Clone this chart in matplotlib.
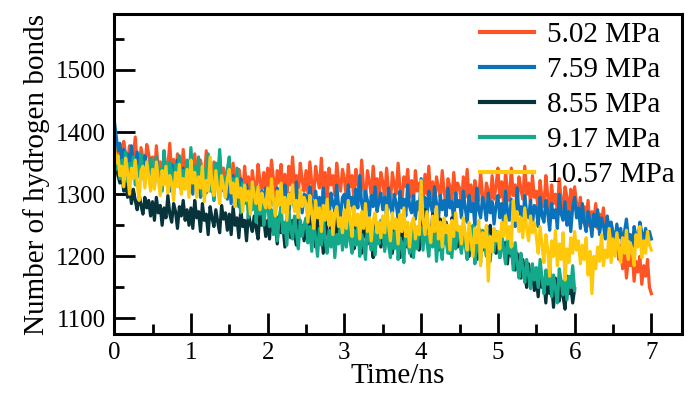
import numpy as np
import matplotlib
matplotlib.use("Agg")
import matplotlib.pyplot as plt
from matplotlib.ticker import MultipleLocator

plt.rcParams['font.family'] = ['Liberation Serif', 'DejaVu Serif']

# sampling step of the values below (ns)
dt = 0.025

labels = ["5.02 MPa", "7.59 MPa", "8.55 MPa", "9.17 MPa", "10.57 MPa"]
colors = ["#FF5525", "#0A72BA", "#06343A", "#14A98B", "#FFC80A"]

# one row = 0.5 ns
hb_502 = [1372, 1390, 1355, 1368, 1340, 1385, 1362, 1348, 1378, 1335, 1360, 1392, 1350, 1330, 1375, 1358, 1342, 1380, 1365, 1345,
          1360, 1325, 1378, 1340, 1352, 1318, 1370, 1335, 1345, 1382, 1330, 1356, 1320, 1365, 1342, 1328, 1372, 1338, 1350, 1315,
          1348, 1322, 1365, 1330, 1310, 1355, 1338, 1320, 1370, 1328, 1345, 1305, 1352, 1335, 1318, 1362, 1325, 1342, 1300, 1340,
          1335, 1305, 1350, 1318, 1298, 1340, 1322, 1295, 1345, 1312, 1328, 1290, 1338, 1315, 1302, 1348, 1320, 1308, 1335, 1300,
          1342, 1310, 1355, 1325, 1295, 1338, 1318, 1348, 1302, 1332, 1290, 1345, 1315, 1360, 1308, 1330, 1298, 1350, 1322, 1305,
          1338, 1302, 1352, 1318, 1295, 1345, 1325, 1310, 1358, 1300, 1335, 1290, 1342, 1315, 1330, 1298, 1350, 1320, 1305, 1340,
          1325, 1295, 1348, 1312, 1330, 1288, 1340, 1318, 1302, 1355, 1310, 1292, 1338, 1320, 1300, 1345, 1308, 1325, 1290, 1335,
          1320, 1295, 1342, 1305, 1285, 1335, 1315, 1300, 1350, 1308, 1290, 1328, 1312, 1340, 1295, 1322, 1285, 1338, 1305, 1318,
          1315, 1288, 1332, 1300, 1345, 1292, 1320, 1280, 1328, 1310, 1295, 1338, 1302, 1285, 1325, 1312, 1290, 1335, 1298, 1318,
          1310, 1282, 1328, 1295, 1340, 1288, 1315, 1278, 1322, 1302, 1290, 1335, 1298, 1280, 1318, 1305, 1285, 1330, 1292, 1312,
          1342, 1295, 1320, 1285, 1335, 1305, 1290, 1342, 1298, 1315, 1280, 1328, 1308, 1292, 1345, 1300, 1318, 1285, 1330, 1295,
          1305, 1275, 1322, 1292, 1280, 1330, 1298, 1268, 1315, 1285, 1300, 1272, 1325, 1290, 1278, 1312, 1295, 1265, 1308, 1282,
          1312, 1285, 1270, 1295, 1255, 1280, 1262, 1290, 1248, 1272, 1258, 1285, 1245, 1268, 1252, 1278, 1240, 1262, 1235, 1255,
          1228, 1205, 1240, 1195, 1218, 1180, 1210, 1165, 1198, 1185, 1205, 1160, 1192, 1175, 1200, 1155, 1185, 1168, 1195, 1150,
          1140]

hb_759 = [1420, 1395, 1370, 1382, 1355, 1372, 1348, 1365, 1340, 1378, 1352, 1335, 1368, 1345, 1358, 1330, 1362, 1342, 1350, 1325,
          1345, 1318, 1360, 1328, 1340, 1310, 1352, 1322, 1335, 1305, 1348, 1325, 1315, 1355, 1330, 1308, 1342, 1320, 1338, 1302,
          1330, 1300, 1345, 1312, 1325, 1295, 1340, 1318, 1302, 1350, 1310, 1322, 1290, 1335, 1315, 1298, 1328, 1305, 1320, 1292,
          1318, 1285, 1330, 1298, 1310, 1280, 1325, 1302, 1288, 1315, 1295, 1275, 1320, 1300, 1285, 1312, 1290, 1305, 1278, 1310,
          1305, 1275, 1318, 1290, 1268, 1310, 1285, 1298, 1272, 1315, 1288, 1265, 1302, 1292, 1278, 1320, 1282, 1295, 1270, 1300,
          1298, 1270, 1312, 1285, 1262, 1305, 1280, 1295, 1268, 1310, 1278, 1290, 1260, 1302, 1285, 1272, 1315, 1280, 1265, 1295,
          1300, 1268, 1315, 1282, 1295, 1262, 1308, 1278, 1330, 1285, 1270, 1305, 1290, 1265, 1298, 1280, 1312, 1272, 1288, 1302,
          1275, 1295, 1262, 1310, 1280, 1268, 1300, 1285, 1258, 1305, 1278, 1292, 1265, 1315, 1280, 1270, 1298, 1260, 1288, 1275,
          1325, 1278, 1295, 1262, 1305, 1282, 1270, 1312, 1285, 1258, 1298, 1275, 1290, 1265, 1310, 1278, 1288, 1255, 1302, 1280,
          1290, 1262, 1305, 1278, 1255, 1298, 1272, 1285, 1250, 1310, 1275, 1262, 1295, 1280, 1258, 1302, 1270, 1288, 1252, 1282,
          1298, 1262, 1285, 1250, 1305, 1272, 1258, 1292, 1275, 1248, 1310, 1268, 1280, 1255, 1298, 1270, 1262, 1290, 1250, 1282,
          1278, 1248, 1295, 1265, 1255, 1290, 1270, 1242, 1285, 1262, 1275, 1245, 1300, 1268, 1258, 1288, 1250, 1272, 1240, 1280,
          1295, 1262, 1278, 1245, 1285, 1255, 1240, 1272, 1258, 1232, 1268, 1248, 1275, 1235, 1262, 1250, 1228, 1265, 1242, 1255,
          1238, 1225, 1252, 1230, 1245, 1218, 1240, 1260, 1228, 1235, 1215, 1248, 1232, 1222, 1255, 1238, 1225, 1245, 1230, 1240,
          1228]

hb_855 = [1365, 1345, 1330, 1318, 1335, 1305, 1320, 1295, 1312, 1285, 1308, 1290, 1275, 1300, 1282, 1268, 1295, 1278, 1290, 1265,
          1288, 1258, 1295, 1270, 1282, 1250, 1278, 1262, 1298, 1268, 1255, 1285, 1272, 1245, 1280, 1265, 1290, 1258, 1275, 1250,
          1278, 1245, 1290, 1262, 1272, 1240, 1285, 1258, 1268, 1235, 1280, 1262, 1248, 1275, 1255, 1238, 1282, 1260, 1270, 1242,
          1268, 1235, 1280, 1250, 1262, 1230, 1275, 1248, 1258, 1225, 1270, 1252, 1240, 1265, 1245, 1228, 1272, 1250, 1260, 1232,
          1258, 1228, 1270, 1240, 1252, 1220, 1265, 1238, 1248, 1215, 1262, 1242, 1230, 1258, 1235, 1218, 1268, 1240, 1250, 1225,
          1255, 1222, 1265, 1238, 1248, 1215, 1260, 1232, 1245, 1205, 1258, 1240, 1225, 1255, 1230, 1210, 1262, 1238, 1248, 1220,
          1250, 1218, 1262, 1232, 1242, 1212, 1258, 1228, 1240, 1205, 1255, 1235, 1220, 1250, 1228, 1198, 1258, 1232, 1245, 1215,
          1245, 1212, 1258, 1228, 1238, 1205, 1252, 1222, 1235, 1198, 1250, 1230, 1215, 1245, 1225, 1200, 1255, 1228, 1240, 1210,
          1262, 1225, 1275, 1240, 1250, 1218, 1268, 1235, 1245, 1210, 1260, 1238, 1222, 1255, 1232, 1205, 1262, 1235, 1248, 1215,
          1240, 1208, 1252, 1222, 1235, 1200, 1248, 1218, 1230, 1195, 1245, 1225, 1210, 1240, 1218, 1192, 1250, 1222, 1232, 1205,
          1228, 1198, 1238, 1210, 1222, 1188, 1230, 1200, 1212, 1178, 1205, 1185, 1165, 1195, 1170, 1150, 1188, 1162, 1175, 1145,
          1168, 1135, 1178, 1150, 1160, 1125, 1172, 1140, 1155, 1118, 1165, 1142, 1128, 1160, 1135, 1115, 1168, 1140, 1152, 1125,
          1148]

hb_917 = [1372, 1340, 1362, 1325, 1355, 1338, 1368, 1320, 1350, 1332, 1360, 1315, 1345, 1328, 1365, 1335, 1318, 1352, 1330, 1358,
          1345, 1312, 1360, 1325, 1340, 1305, 1370, 1330, 1318, 1352, 1335, 1300, 1348, 1322, 1362, 1310, 1338, 1325, 1355, 1315,
          1375, 1330, 1345, 1310, 1360, 1322, 1298, 1340, 1318, 1365, 1305, 1335, 1290, 1350, 1320, 1372, 1312, 1328, 1295, 1340,
          1360, 1305, 1325, 1280, 1342, 1298, 1270, 1318, 1285, 1305, 1262, 1295, 1275, 1310, 1255, 1288, 1268, 1300, 1250, 1280,
          1290, 1248, 1275, 1235, 1268, 1225, 1262, 1280, 1238, 1255, 1218, 1270, 1245, 1228, 1265, 1240, 1212, 1258, 1232, 1250,
          1262, 1222, 1248, 1208, 1255, 1230, 1200, 1245, 1218, 1265, 1225, 1205, 1242, 1215, 1250, 1198, 1235, 1220, 1258, 1210,
          1248, 1215, 1260, 1225, 1205, 1242, 1218, 1255, 1200, 1235, 1222, 1195, 1250, 1228, 1210, 1245, 1202, 1238, 1220, 1258,
          1240, 1208, 1252, 1218, 1198, 1238, 1212, 1260, 1195, 1230, 1215, 1190, 1248, 1222, 1205, 1242, 1198, 1232, 1212, 1250,
          1245, 1210, 1258, 1222, 1200, 1240, 1215, 1252, 1192, 1232, 1218, 1195, 1248, 1225, 1205, 1240, 1198, 1235, 1212, 1245,
          1232, 1205, 1248, 1218, 1195, 1238, 1210, 1250, 1188, 1228, 1212, 1190, 1242, 1220, 1200, 1235, 1192, 1230, 1208, 1240,
          1225, 1198, 1240, 1210, 1188, 1230, 1205, 1215, 1178, 1222, 1190, 1165, 1205, 1180, 1158, 1195, 1170, 1148, 1188, 1162,
          1182, 1150, 1195, 1165, 1140, 1178, 1155, 1190, 1135, 1170, 1148, 1125, 1180, 1158, 1138, 1175, 1130, 1168, 1150, 1185,
          1145]

hb_1057 = [1385, 1350, 1362, 1330, 1345, 1312, 1358, 1335, 1300, 1342, 1325, 1355, 1318, 1290, 1338, 1345, 1310, 1352, 1328, 1305,
           1340, 1308, 1352, 1325, 1298, 1338, 1315, 1345, 1302, 1330, 1318, 1290, 1335, 1312, 1348, 1300, 1325, 1308, 1340, 1295,
           1355, 1318, 1335, 1295, 1328, 1310, 1345, 1288, 1322, 1305, 1360, 1315, 1298, 1338, 1308, 1285, 1330, 1312, 1295, 1325,
           1340, 1302, 1318, 1280, 1325, 1295, 1310, 1272, 1315, 1290, 1305, 1268, 1320, 1298, 1285, 1312, 1275, 1302, 1288, 1278,
           1310, 1278, 1325, 1292, 1265, 1305, 1282, 1318, 1270, 1295, 1258, 1300, 1285, 1315, 1272, 1290, 1262, 1308, 1280, 1295,
           1285, 1255, 1298, 1270, 1245, 1290, 1262, 1278, 1240, 1282, 1258, 1292, 1250, 1272, 1235, 1268, 1280, 1248, 1262, 1238,
           1275, 1245, 1290, 1258, 1232, 1280, 1250, 1268, 1228, 1272, 1245, 1285, 1240, 1262, 1225, 1258, 1270, 1238, 1255, 1230,
           1265, 1238, 1282, 1250, 1225, 1270, 1245, 1260, 1220, 1268, 1240, 1278, 1232, 1255, 1215, 1252, 1262, 1228, 1248, 1235,
           1322, 1260, 1235, 1272, 1245, 1222, 1265, 1240, 1280, 1228, 1255, 1215, 1262, 1238, 1250, 1210, 1258, 1232, 1270, 1242,
           1248, 1220, 1262, 1235, 1210, 1255, 1228, 1200, 1245, 1222, 1258, 1185, 1238, 1215, 1250, 1160, 1232, 1208, 1245, 1225,
           1240, 1212, 1255, 1232, 1265, 1228, 1248, 1215, 1290, 1258, 1272, 1240, 1262, 1230, 1278, 1245, 1225, 1265, 1238, 1255,
           1232, 1205, 1248, 1218, 1190, 1235, 1210, 1168, 1225, 1200, 1242, 1185, 1220, 1195, 1238, 1162, 1212, 1190, 1230, 1205,
           1240, 1210, 1225, 1188, 1218, 1195, 1230, 1170, 1208, 1140, 1200, 1180, 1215, 1192, 1235, 1185, 1210, 1198, 1245, 1190,
           1228, 1200, 1238, 1212, 1190, 1230, 1205, 1242, 1195, 1222, 1210, 1185, 1235, 1215, 1248, 1198, 1225, 1205, 1240, 1218,
           1210]

series = [hb_502, hb_759, hb_855, hb_917, hb_1057]

fig = plt.figure(figsize=(6.96, 4.01), dpi=100)
ax = fig.add_axes([0.164, 0.167, 0.816, 0.798])

for vals, lab, col in zip(series, labels, colors):
    t = np.arange(len(vals)) * dt
    ax.plot(t, vals, color=col, lw=2.3, label=lab)

ax.set_xlim(0, 7.4)
ax.set_ylim(1075, 1590)
ax.xaxis.set_major_locator(MultipleLocator(1))
ax.xaxis.set_minor_locator(MultipleLocator(0.5))
ax.yaxis.set_minor_locator(MultipleLocator(50))
ax.set_yticks([1100, 1200, 1300, 1400, 1500])
ax.tick_params(which='both', direction='in', width=2, top=False, right=False)
ax.tick_params(which='major', length=15, labelsize=18, pad=6)
ax.tick_params(which='minor', length=7.5)
for s in ax.spines.values():
    s.set_linewidth(2.2)

ax.set_xlabel("Time/ns", fontsize=21, labelpad=-1)
ax.set_ylabel("Number of hydrogen bonds", fontsize=21, labelpad=4)

leg = ax.legend(loc='upper right', frameon=False, fontsize=21,
                handlelength=1.85, handletextpad=0.45, labelspacing=0.3,
                borderaxespad=0.05, borderpad=0.2)
for h in leg.get_lines():
    h.set_linewidth(3)

fig.savefig("out.png", dpi=100)
